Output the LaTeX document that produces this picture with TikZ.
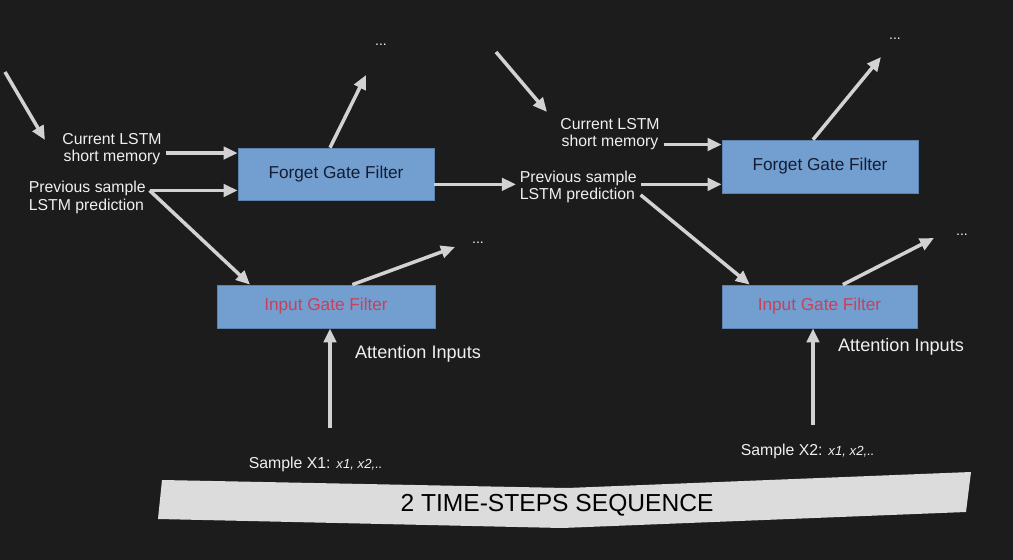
\documentclass[tikz,border=0pt]{standalone}
\usepackage{fontspec}
\setmainfont{Liberation Sans}
\usetikzlibrary{arrows.meta}

\definecolor{bg}{HTML}{1C1C1C}
\definecolor{boxfill}{HTML}{729FCF}
\definecolor{boxline}{HTML}{5C82AE}
\definecolor{navy}{HTML}{141C33}
\definecolor{gatered}{HTML}{C8405C}
\definecolor{arrowgray}{HTML}{D2D2D2}
\definecolor{banner}{HTML}{DCDCDC}
\definecolor{txt}{HTML}{F0F0F0}

\tikzset{
	arr/.style={draw=arrowgray, line width=2pt, -{Triangle[length=8pt,width=7pt]}},
	gate/.style={draw=boxline, fill=boxfill, inner sep=0pt, font=\fontsize{9.8}{11}\selectfont},
	lbl/.style={text=txt, inner sep=2pt, font=\fontsize{9}{9.8}\selectfont},
	dots/.style={text=txt, inner sep=1pt, font=\fontsize{8}{9}\selectfont},
	att/.style={text=txt, inner sep=2pt, font=\fontsize{10.3}{12}\selectfont}
}

\begin{document}
\begin{tikzpicture}[x=0.02cm, y=-0.02cm]
					\fill [bg] (0,0) rectangle (1013,560);
					\useasboundingbox (0,0) rectangle (1013,560);

					\node [gate, text=navy, minimum width=3.92cm, minimum height=1.04cm] (fg1) at (336,174) {Forget Gate Filter};
					\node [gate, text=gatered, minimum width=4.36cm, minimum height=0.86cm] (ig1) at (326,306.5) {Input Gate Filter};
					\node [gate, text=navy, minimum width=3.92cm, minimum height=1.06cm] (fg2) at (820,166.5) {Forget Gate Filter};
					\node [gate, text=gatered, minimum width=3.9cm, minimum height=0.86cm] (ig2) at (819.5,306.5) {Input Gate Filter};

					\node [lbl, align=center] (cur1) at (112,149) {Current LSTM\\short memory};
					\node [lbl, align=left, anchor=west] (prev1) at (25,197.5) {Previous sample\\LSTM prediction};
					\node [lbl, align=center] (cur2) at (610,134) {Current LSTM\\short memory};
					\node [lbl, align=left, anchor=west] (prev2) at (516,187) {Previous sample\\LSTM prediction};

					\node [att] (att1) at (418,354) {Attention Inputs};
					\node [att] (att2) at (901,347) {Attention Inputs};

					\node [lbl, anchor=west] (smp1) at (245,464) {Sample X1: {\fontsize{7.5}{9}\selectfont\itshape x1, x2,..}};
					\node [lbl, anchor=west] (smp2) at (737,451) {Sample X2: {\fontsize{7.5}{9}\selectfont\itshape x1, x2,..}};

					\node [dots] (d1) at (381,45) {...};
					\node [dots] (d2) at (478,243) {...};
					\node [dots] (d3) at (895,39) {...};
					\node [dots] (d4) at (962,235) {...};

					\coordinate (in1) at (5,72);
					\coordinate (in1e) at (45,140);
					\coordinate (in2) at (496,52);
					\coordinate (in2e) at (547,112);
					\coordinate (m1) at ([yshift=-2.3pt]cur1.east);
					\coordinate (p1) at ([yshift=4pt]prev1.east);
					\coordinate (m2) at ([yshift=-6pt]cur2.east);
					\coordinate (p2) at ([yshift=-4.5pt]prev2.east);
					\coordinate (o1) at (366,75);
					\coordinate (o2) at (455,247);
					\coordinate (o3) at (881,57);
					\coordinate (o4) at (934,238);
					\coordinate (b1) at (330,428);
					\coordinate (b2) at (813,425);

					\draw [arr] (in1) -- (in1e);
					\draw [arr] (m1) -- (m1 -| fg1.west);
					\draw [arr] (p1) -- (p1 -| fg1.west);
					\draw [arr] (p1) -- ([xshift=19pt]ig1.north west);
					\draw [arr] ([xshift=-3.4pt]fg1.north) -- (o1);
					\draw [arr] ([xshift=15pt]ig1.north) -- (o2);
					\draw [arr] (b1) -- (b1 |- ig1.south);
					\draw [arr] ([yshift=1.5pt]prev2.west -| fg1.east) -- ([yshift=1.5pt]prev2.west);

					\draw [arr] (in2) -- (in2e);
					\draw [arr] (m2) -- (m2 -| fg2.west);
					\draw [arr] ([yshift=1.5pt]prev2.east) -- ([yshift=1.5pt]prev2.east -| fg2.west);
					\draw [arr] (p2) -- ([xshift=16pt]ig2.north west);
					\draw [arr] ([xshift=-4pt]fg2.north) -- (o3);
					\draw [arr] ([xshift=13.3pt]ig2.north) -- (o4);
					\draw [arr] (b2) -- (b2 |- ig2.south);

					\fill [banner] (162,480) -- (567,488) -- (971,472) -- (966,512) -- (562,528) -- (158,519) -- cycle;
					\node [text=black, font=\fontsize{14}{16}\selectfont] (seq) at (557,505) {2 TIME-STEPS SEQUENCE};
				\end{tikzpicture}
\end{document}
